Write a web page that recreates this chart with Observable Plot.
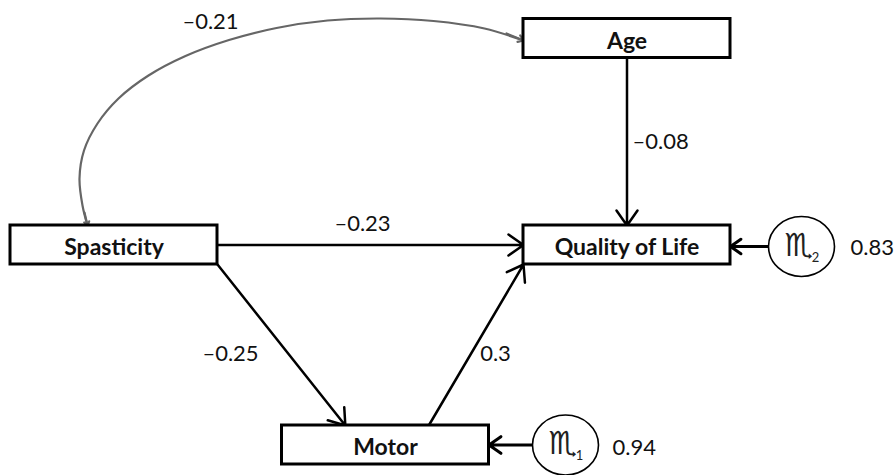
<!DOCTYPE html>
<html>
<head>
<meta charset="utf-8">
<script src="https://cdn.jsdelivr.net/npm/d3@7"></script>
<script src="https://cdn.jsdelivr.net/npm/@observablehq/plot@0.6"></script>
<style>
  html, body { margin: 0; padding: 0; background: #fff; }
  svg { display: block; }
</style>
</head>
<body>
<div id="chart"></div>
<script>
// ---------- DATA ----------
const variables = ["Age", "Spasticity", "Quality of Life", "Motor"];
const pathFrom = ["Age", "Spasticity", "Spasticity", "Motor"];
const pathTo = ["Quality of Life", "Quality of Life", "Motor", "Quality of Life"];
const pathCoef = [-0.08, -0.23, -0.25, 0.3];
const covFrom = "Spasticity";
const covTo = "Age";
const covValue = -0.21;
const disturbanceTarget = ["Motor", "Quality of Life"];
const disturbanceIndex = ["1", "2"];
const disturbanceValue = [0.94, 0.83];

// ---------- LAYOUT (diagram geometry, in page units) ----------
const W = 896, H = 475;
const BOX_W = 207, BOX_H = 39;
const nodeCenter = {
  "Age": [626.5, 38],
  "Spasticity": [113.5, 244.5],
  "Quality of Life": [626.5, 244.5],
  "Motor": [385, 444.5]
};
// anchors as fractions of the box [fx, fy]
const pathAnchors = [
  [[0.5, 1], [0.5, 0]],
  [[1, 0.5], [0, 0.5]],
  [[1, 1], [0.306, 0]],
  [[0.709, 0], [0, 1]]
];
const pathLabelPos = [[632, 148, "start"], [362, 230, "middle"], [230, 360, "middle"], [495, 360, "middle"]];
const covLabelPos = [210, 28];
// waypoints of the curved covariance arrow (Age end -> Spasticity end)
const covCurve = [
  [523, 40], [484, 28], [433, 20.5], [380, 18], [327, 20], [276, 27.5], [228.5, 39.5],
  [185, 55.5], [148, 75], [118, 98], [97, 123], [83.5, 150], [79, 178], [82, 205], [87, 225]
];
const disturbanceCenter = [[565, 444.5], [801, 246]];
const ELL_R = 30; // ry; rx = 1.1 * ry
const disturbanceLabelPos = [[612, 454], [850, 254]];

// ---------- helpers ----------
const fmt = v => (v < 0 ? "\u2013" + String(Math.abs(v)) : String(v));
const box = name => {
  const [cx, cy] = nodeCenter[name];
  return {name, cx, cy, x1: cx - BOX_W / 2, x2: cx + BOX_W / 2, y1: cy - BOX_H / 2, y2: cy + BOX_H / 2};
};
const anchor = (name, [fx, fy]) => {
  const b = box(name);
  return [b.x1 + fx * BOX_W, b.y1 + fy * BOX_H];
};

const boxes = variables.map(box);
const paths = pathFrom.map((f, i) => {
  const [x1, y1] = anchor(f, pathAnchors[i][0]);
  const [x2, y2] = anchor(pathTo[i], pathAnchors[i][1]);
  return {x1, y1, x2, y2, label: fmt(pathCoef[i]), lx: pathLabelPos[i][0], ly: pathLabelPos[i][1], anchor: pathLabelPos[i][2]};
});
const disturbances = disturbanceTarget.map((t, i) => {
  const [cx, cy] = disturbanceCenter[i];
  const b = box(t);
  return {cx, cy, x1: cx - ELL_R * 1.1, y1: cy, x2: b.x2, y2: cy, idx: disturbanceIndex[i],
          label: fmt(disturbanceValue[i]), lx: disturbanceLabelPos[i][0], ly: disturbanceLabelPos[i][1]};
});
const covHeads = [
  {x1: 506, y1: 33, x2: covCurve[0][0], y2: covCurve[0][1]},
  {x1: 84, y1: 212, x2: covCurve[covCurve.length - 1][0], y2: covCurve[covCurve.length - 1][1]}
];

const ellipseSymbol = {
  draw(ctx, size) {
    const ry = Math.sqrt(size / Math.PI), rx = ry * 1.1, k = 0.5523;
    ctx.moveTo(rx, 0);
    ctx.bezierCurveTo(rx, ry * k, rx * k, ry, 0, ry);
    ctx.bezierCurveTo(-rx * k, ry, -rx, ry * k, -rx, 0);
    ctx.bezierCurveTo(-rx, -ry * k, -rx * k, -ry, 0, -ry);
    ctx.bezierCurveTo(rx * k, -ry, rx, -ry * k, rx, 0);
    ctx.closePath();
  }
};

const NUM_FONT = 22;
const numStyle = {fontSize: NUM_FONT, lineAnchor: "bottom", fill: "#111"};
const chart = Plot.plot({
  width: W,
  height: H,
  margin: 0,
  style: {fontFamily: "Lato, 'DejaVu Sans', sans-serif", background: "white"},
  x: {domain: [0, W], axis: null},
  y: {domain: [0, H], reverse: true, axis: null},
  marks: [
    // covariance curve
    Plot.line(covCurve, {x: d => d[0], y: d => d[1], curve: "catmull-rom", stroke: "#666", strokeWidth: 2.2}),
    Plot.arrow(covHeads, {x1: "x1", y1: "y1", x2: "x2", y2: "y2", stroke: "#666", strokeWidth: 2.2, headLength: 11, headAngle: 70}),
    Plot.text([covValue], {x: () => covLabelPos[0], y: () => covLabelPos[1], text: d => fmt(d), ...numStyle}),
    // directed paths
    Plot.arrow(paths, {x1: "x1", y1: "y1", x2: "x2", y2: "y2", stroke: "black", strokeWidth: 2.5, headLength: 11, headAngle: 70}),
    Plot.text(paths.filter(d => d.anchor === "middle"), {x: "lx", y: "ly", text: "label", textAnchor: "middle", ...numStyle}),
    Plot.text(paths.filter(d => d.anchor === "start"), {x: "lx", y: "ly", text: "label", textAnchor: "start", ...numStyle}),
    // disturbances
    Plot.arrow(disturbances, {x1: "x1", y1: "y1", x2: "x2", y2: "y2", stroke: "black", strokeWidth: 3, headLength: 11, headAngle: 70}),
    Plot.dot(disturbances, {x: "cx", y: "cy", r: ELL_R, symbol: ellipseSymbol, fill: "white", stroke: "black", strokeWidth: 1.6}),
    Plot.text(disturbances, {x: d => d.cx - 3, y: d => d.cy - 1, text: () => "\u264F", fontSize: 32, fontFamily: "'DejaVu Sans'", fill: "#222"}),
    Plot.text(disturbances, {x: d => d.cx + 14, y: d => d.cy + 11, text: "idx", fontSize: 13, fill: "#222"}),
    Plot.text(disturbances, {x: "lx", y: "ly", text: "label", textAnchor: "start", ...numStyle}),
    // variable boxes
    Plot.rect(boxes, {x1: "x1", x2: "x2", y1: "y1", y2: "y2", fill: "white", stroke: "black", strokeWidth: 3}),
    Plot.text(boxes, {x: "cx", y: d => d.cy + 10, text: "name", fontWeight: "bold", fontSize: 23, lineAnchor: "bottom", fill: "#111"})
  ]
});
document.getElementById("chart").appendChild(chart);
</script>
</body>
</html>
